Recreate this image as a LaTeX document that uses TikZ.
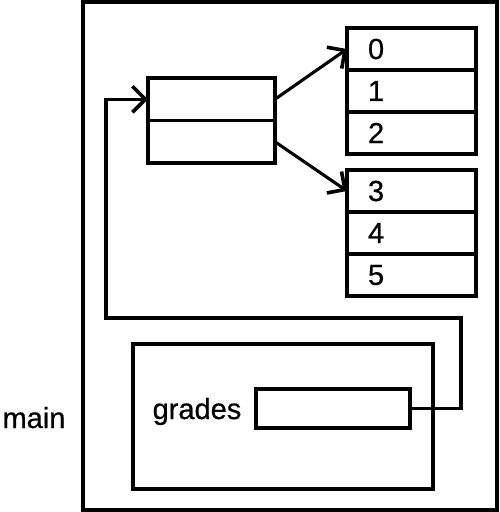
\documentclass[tikz,border=0pt]{standalone}
\usepackage{fontspec}
\setmainfont{Liberation Sans}
\usetikzlibrary{arrows.meta,positioning}

\begin{document}
\begin{tikzpicture}[
    x=1pt, y=-1pt,
    line width=3.1pt,
    cell/.style={draw, inner xsep=21pt, inner ysep=0pt, outer sep=0pt, text width=87pt, align=left, minimum height=42pt, font=\fontsize{29}{29}\selectfont\addfontfeature{FakeBold=0.6}},
    ptr/.style={draw, inner sep=0pt, outer sep=0pt, minimum width=127pt, minimum height=42.5pt},
    frame/.style={draw, inner sep=0pt, outer sep=0pt},
    txt/.style={inner sep=0pt, anchor=base},
    ref/.style={-{Straight Barb[length=13pt,width=26pt,line width=3.6pt]}}
]
\useasboundingbox (0,0) rectangle (500,512);

% Stack frame
\node[frame, minimum width=414pt, minimum height=508pt, anchor=north west] (mainbox) at (83,2) {};
\node[txt, font=\fontsize{29}{29}\selectfont\addfontfeature{FakeBold=0.6}] (mainname) at (34,428) {main};

% Local variable
\node[frame, minimum width=300pt, minimum height=145pt, anchor=north west] (gbox) at (133,344) {};
\node[txt, font=\fontsize{29}{29}\selectfont\addfontfeature{FakeBold=0.6}] (gname) at (197,419) {grades};
\node[frame, minimum width=154pt, minimum height=39pt, anchor=north west] (gval) at (256,389) {};

% Outer array
\node[ptr, anchor=north west] (p0) at (148,78) {};
\node[ptr, below=0pt of p0] (p1) {};

% First row
\node[cell, anchor=north west] (a0) at (347,28) {0};
\node[cell, below=0pt of a0] (a1) {1};
\node[cell, below=0pt of a1] (a2) {2};

% Second row
\node[cell, below=16pt of a2] (b0) {3};
\node[cell, below=0pt of b0] (b1) {4};
\node[cell, below=0pt of b1] (b2) {5};

% References
\draw[ref] (p0.east) -- (a0.west);
\draw[ref] (p1.east) -- (b0.west);
\draw[ref] (gval.east) -- ++(51,0) |- (106,318) |- (p0.west);

\end{tikzpicture}
\end{document}
